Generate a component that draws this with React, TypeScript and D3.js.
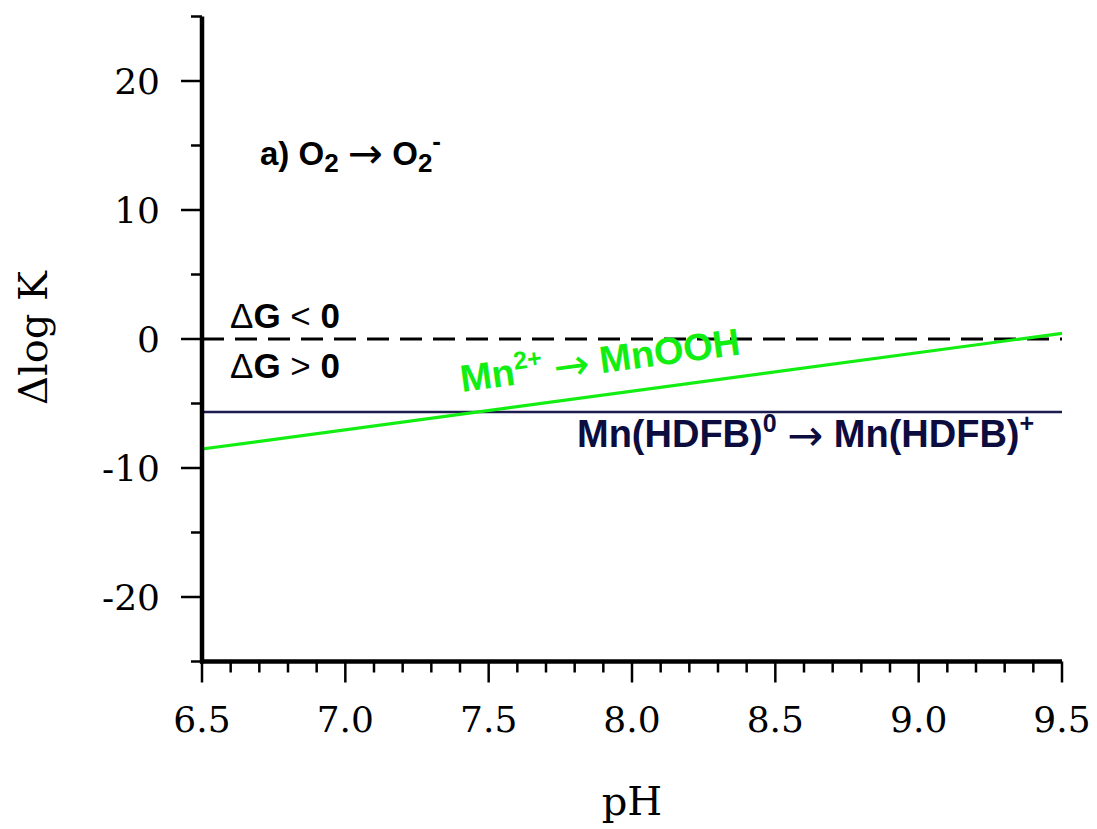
import React from "react";
import * as d3 from "d3";

const phDomain = [6.5, 9.5];
const logKDomain = [-25, 25];
const xMajorTicks = [6.5, 7.0, 7.5, 8.0, 8.5, 9.0, 9.5];
const xTickLabels = ["6.5", "7.0", "7.5", "8.0", "8.5", "9.0", "9.5"];
const yMajorTicks = [-20, -10, 0, 10, 20];
const yTickLabels = ["-20", "-10", "0", "10", "20"];
const yMinorTicks = [-25, -15, -5, 5, 15, 25];

const mnoohPH = [6.5, 9.5];
const mnoohLogK = [-8.53, 0.44];
const hdfbPH = [6.5, 9.5];
const hdfbLogK = [-5.65, -5.65];
const zeroPH = [6.5, 9.5];
const zeroLogK = [0, 0];

const W = 1097;
const H = 829;
const serif = "'DejaVu Serif', serif";
const sans = "'Liberation Sans', Arial, sans-serif";
const GREEN = "#12ee12";
const NAVY = "#0c0c3e";
const NBSP = "\u00A0";

// pre: vertical shift to apply before the arrow (to return from a super/subscript)
function Arrow({ size, pre }: { size: number; pre: number }) {
  return (
    <>
      <tspan dy={pre}>{NBSP}</tspan>
      <tspan fontWeight="normal" fontFamily="'DejaVu Sans', sans-serif" fontSize={size} dy={3}>
        →
      </tspan>
      <tspan dy={-3}>{NBSP}</tspan>
    </>
  );
}

export default function App() {
  const x = d3.scaleLinear().domain(phDomain).range([202, 1062]);
  const y = d3.scaleLinear().domain(logKDomain).range([661.5, 16.5]);
  const line = d3
    .line<[number, number]>()
    .x((d) => x(d[0]))
    .y((d) => y(d[1]));
  const pts = (a: number[], b: number[]) => a.map((v, i) => [v, b[i]] as [number, number]);

  const xMinor = d3.range(0, 31).map((i) => 6.5 + i * 0.1);
  const angle =
    (Math.atan2(y(mnoohLogK[1]) - y(mnoohLogK[0]), x(mnoohPH[1]) - x(mnoohPH[0])) * 180) / Math.PI;

  return (
    <svg
      width={W}
      height={H}
      style={{ position: "absolute", left: 0, top: 0, background: "#fff" }}
    >
      {/* lines */}
      <path d={line(pts(zeroPH, zeroLogK)) || ""} stroke="#000" strokeWidth={3} strokeDasharray="22 11" fill="none" />
      <path d={line(pts(hdfbPH, hdfbLogK)) || ""} stroke="#1c1c50" strokeWidth={2.5} fill="none" />
      <path d={line(pts(mnoohPH, mnoohLogK)) || ""} stroke={GREEN} strokeWidth={3.2} fill="none" />

      {/* axes */}
      <line x1={x(6.5)} x2={x(6.5)} y1={y(25)} y2={y(-25) + 2} stroke="#000" strokeWidth={4.5} />
      <line x1={x(6.5) - 2} x2={x(9.5)} y1={y(-25)} y2={y(-25)} stroke="#000" strokeWidth={4.5} />
      {yMajorTicks.map((t) => (
        <line key={"ym" + t} x1={x(6.5) - 21} x2={x(6.5)} y1={y(t)} y2={y(t)} stroke="#000" strokeWidth={2.5} />
      ))}
      {yMinorTicks.map((t) => (
        <line key={"yn" + t} x1={x(6.5) - 11} x2={x(6.5)} y1={y(t)} y2={y(t)} stroke="#000" strokeWidth={2.5} />
      ))}
      {xMinor.map((t, i) => (
        <line
          key={"xn" + i}
          x1={x(t)}
          x2={x(t)}
          y1={y(-25)}
          y2={y(-25) + (i % 5 === 0 ? 21 : 11)}
          stroke="#000"
          strokeWidth={2.5}
        />
      ))}
      {yMajorTicks.map((t, i) => (
        <text key={"yl" + t} x={160} y={y(t)} dy="0.36em" textAnchor="end" fontFamily={serif} fontSize={36}>
          {yTickLabels[i]}
        </text>
      ))}
      {xMajorTicks.map((t, i) => (
        <text key={"xl" + t} x={x(t)} y={732} textAnchor="middle" fontFamily={serif} fontSize={36}>
          {xTickLabels[i]}
        </text>
      ))}
      <text x={632} y={815} textAnchor="middle" fontFamily={serif} fontSize={40}>
        pH
      </text>
      <text
        transform={`translate(47,338) rotate(-90)`}
        textAnchor="middle"
        fontFamily={serif}
        fontSize={40}
      >
        Δlog K
      </text>

      {/* annotations */}
      <text x={260} y={165} fontFamily={sans} fontWeight="bold" fontSize={33} fill="#000">
        a) O
        <tspan fontSize={26} dy={7}>2</tspan>
        <Arrow size={42} pre={-7} />
        O<tspan fontSize={26} dy={7}>2</tspan>
        <tspan fontSize={26} dy={-22}>-</tspan>
      </text>
      <text x={230} y={328} fontFamily={sans} fontWeight="bold" fontSize={35}>
        <tspan fontWeight="normal">Δ</tspan>G <tspan fontWeight="normal">&lt;</tspan> 0
      </text>
      <text x={230} y={378} fontFamily={sans} fontWeight="bold" fontSize={35}>
        <tspan fontWeight="normal">Δ</tspan>G <tspan fontWeight="normal">&gt;</tspan> 0
      </text>
      <text
        transform={`translate(462,392) rotate(${angle})`}
        fontFamily={sans}
        fontWeight="bold"
        fontSize={38}
        fill={GREEN}
      >
        Mn
        <tspan fontSize={25} dy={-15}>2+</tspan>
        <Arrow size={43} pre={15} />
        MnOOH
      </text>
      <text x={577} y={447} fontFamily={sans} fontWeight="bold" fontSize={38} fill={NAVY}>
        Mn(HDFB)
        <tspan fontSize={25} dy={-15}>0</tspan>
        <Arrow size={43} pre={15} />
        Mn(HDFB)
        <tspan fontSize={25} dy={-15}>+</tspan>
      </text>
    </svg>
  );
}
